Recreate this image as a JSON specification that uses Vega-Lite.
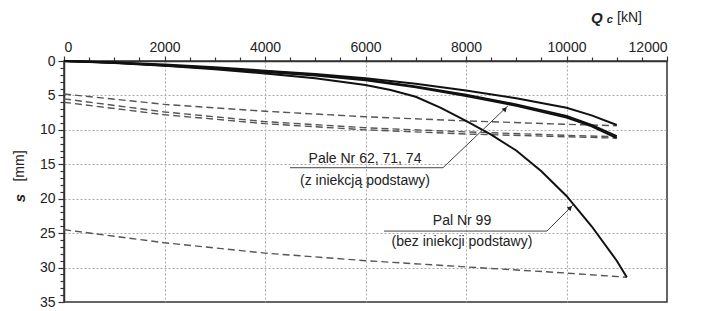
{
  "$schema": "https://vega.github.io/schema/vega-lite/v6.json",
  "width": 603,
  "height": 241,
  "autosize": {"type": "none"},
  "padding": {"left": 64, "top": 61, "right": 35, "bottom": 9},
  "background": "white",
  "config": {
    "view": {"stroke": "#333", "strokeWidth": 1.5},
    "font": "Liberation Sans",
    "text": {"font": "Liberation Sans"}
  },
  "datasets": {
    "solid": [
      {"series": "P99", "q": 0, "s": 0}, {"series": "P99", "q": 1000, "s": 0.3}, {"series": "P99", "q": 2000, "s": 0.7}, {"series": "P99", "q": 3000, "s": 1.2}, {"series": "P99", "q": 4000, "s": 1.8}, {"series": "P99", "q": 5000, "s": 2.5}, {"series": "P99", "q": 6000, "s": 3.5}, {"series": "P99", "q": 6500, "s": 4.2}, {"series": "P99", "q": 7000, "s": 5.2}, {"series": "P99", "q": 7500, "s": 6.8}, {"series": "P99", "q": 8000, "s": 8.7}, {"series": "P99", "q": 8500, "s": 10.7}, {"series": "P99", "q": 9000, "s": 13.0}, {"series": "P99", "q": 9500, "s": 16.0}, {"series": "P99", "q": 10000, "s": 19.6}, {"series": "P99", "q": 10500, "s": 24.0}, {"series": "P99", "q": 11000, "s": 29.0}, {"series": "P99", "q": 11200, "s": 31.4},
      {"series": "A", "q": 0, "s": 0}, {"series": "A", "q": 1000, "s": 0.2}, {"series": "A", "q": 2000, "s": 0.5}, {"series": "A", "q": 3000, "s": 0.9}, {"series": "A", "q": 4000, "s": 1.4}, {"series": "A", "q": 5000, "s": 1.9}, {"series": "A", "q": 6000, "s": 2.5}, {"series": "A", "q": 7000, "s": 3.3}, {"series": "A", "q": 8000, "s": 4.3}, {"series": "A", "q": 9000, "s": 5.4}, {"series": "A", "q": 10000, "s": 6.8}, {"series": "A", "q": 10500, "s": 7.9}, {"series": "A", "q": 11000, "s": 9.3},
      {"series": "B", "q": 0, "s": 0}, {"series": "B", "q": 1000, "s": 0.2}, {"series": "B", "q": 2000, "s": 0.6}, {"series": "B", "q": 3000, "s": 1.0}, {"series": "B", "q": 4000, "s": 1.5}, {"series": "B", "q": 5000, "s": 2.0}, {"series": "B", "q": 6000, "s": 2.7}, {"series": "B", "q": 7000, "s": 3.7}, {"series": "B", "q": 8000, "s": 4.9}, {"series": "B", "q": 9000, "s": 6.3}, {"series": "B", "q": 10000, "s": 8.0}, {"series": "B", "q": 10500, "s": 9.3}, {"series": "B", "q": 11000, "s": 10.9},
      {"series": "C", "q": 0, "s": 0}, {"series": "C", "q": 1000, "s": 0.25}, {"series": "C", "q": 2000, "s": 0.65}, {"series": "C", "q": 3000, "s": 1.1}, {"series": "C", "q": 4000, "s": 1.6}, {"series": "C", "q": 5000, "s": 2.1}, {"series": "C", "q": 6000, "s": 2.8}, {"series": "C", "q": 7000, "s": 3.8}, {"series": "C", "q": 8000, "s": 5.1}, {"series": "C", "q": 9000, "s": 6.5}, {"series": "C", "q": 10000, "s": 8.2}, {"series": "C", "q": 10500, "s": 9.5}, {"series": "C", "q": 11000, "s": 11.2}
    ],
    "dashed": [
      {"series": "D1", "q": 0, "s": 4.8}, {"series": "D1", "q": 2000, "s": 6.3}, {"series": "D1", "q": 4000, "s": 7.3}, {"series": "D1", "q": 6000, "s": 8.1}, {"series": "D1", "q": 8000, "s": 8.7}, {"series": "D1", "q": 10000, "s": 9.2}, {"series": "D1", "q": 11000, "s": 9.4},
      {"series": "D2", "q": 0, "s": 5.5}, {"series": "D2", "q": 2000, "s": 7.4}, {"series": "D2", "q": 4000, "s": 8.8}, {"series": "D2", "q": 6000, "s": 9.7}, {"series": "D2", "q": 8000, "s": 10.3}, {"series": "D2", "q": 10000, "s": 10.8}, {"series": "D2", "q": 11000, "s": 11.0},
      {"series": "D3", "q": 0, "s": 6.0}, {"series": "D3", "q": 2000, "s": 7.8}, {"series": "D3", "q": 4000, "s": 9.1}, {"series": "D3", "q": 6000, "s": 10.0}, {"series": "D3", "q": 8000, "s": 10.6}, {"series": "D3", "q": 10000, "s": 11.0}, {"series": "D3", "q": 11000, "s": 11.2},
      {"series": "D4", "q": 0, "s": 24.5}, {"series": "D4", "q": 2000, "s": 26.4}, {"series": "D4", "q": 4000, "s": 27.9}, {"series": "D4", "q": 6000, "s": 29.0}, {"series": "D4", "q": 8000, "s": 29.9}, {"series": "D4", "q": 10000, "s": 30.8}, {"series": "D4", "q": 11200, "s": 31.4}
    ],
    "one": [{}]
  },
  "layer": [
    {
      "data": {"name": "dashed"},
      "mark": {"type": "line", "stroke": "#555", "strokeWidth": 1.4, "strokeDash": [7, 4]},
      "encoding": {
        "x": {
          "field": "q", "type": "quantitative",
          "scale": {"domain": [0, 12000], "nice": false},
          "axis": {
            "orient": "top", "title": null,
            "values": [0, 500, 1000, 1500, 2000, 2500, 3000, 3500, 4000, 4500, 5000, 5500, 6000, 6500, 7000, 7500, 8000, 8500, 9000, 9500, 10000, 10500, 11000, 11500, 12000],
            "tickCount": 200,
            "format": "d",
            "labelExpr": "datum.value % 2000 === 0 ? datum.label : ''",
            "labelOverlap": false,
            "labelFontSize": 14, "labelColor": "#222", "labelPadding": 2,
            "tickSize": {"condition": {"test": "datum.value % 2000 === 0", "value": 5}, "value": 4},
            "tickColor": "#333", "tickWidth": 1.2,
            "domainColor": "#333", "domainWidth": 1.5,
            "grid": true, "gridColor": "#aaa", "gridDash": [2, 2], "gridWidth": 1,
            "gridOpacity": {"condition": {"test": "datum.value % 2000 === 0 && datum.value > 0 && datum.value < 12000", "value": 1}, "value": 0}
          }
        },
        "y": {
          "field": "s", "type": "quantitative",
          "scale": {"domain": [0, 35], "nice": false, "reverse": true},
          "axis": {
            "title": null,
            "values": [0, 1, 2, 3, 4, 5, 6, 7, 8, 9, 10, 11, 12, 13, 14, 15, 16, 17, 18, 19, 20, 21, 22, 23, 24, 25, 26, 27, 28, 29, 30, 31, 32, 33, 34, 35],
            "tickCount": 200,
            "format": "d",
            "labelExpr": "datum.value % 5 === 0 ? datum.label : ''",
            "labelOverlap": false,
            "labelFontSize": 14, "labelColor": "#222", "labelPadding": 3,
            "tickSize": {"condition": {"test": "datum.value % 5 === 0", "value": 6}, "value": 4},
            "tickColor": "#333", "tickWidth": 1.2,
            "domainColor": "#333", "domainWidth": 1.5,
            "grid": true, "gridColor": "#aaa", "gridDash": [2, 2], "gridWidth": 1,
            "gridOpacity": {"condition": {"test": "datum.value % 5 === 0 && datum.value > 0 && datum.value < 35", "value": 1}, "value": 0}
          }
        },
        "detail": {"field": "series"}
      }
    },
    {
      "data": {"name": "solid"},
      "mark": {"type": "line", "stroke": "#111", "strokeWidth": 2},
      "encoding": {
        "x": {"field": "q", "type": "quantitative"},
        "y": {"field": "s", "type": "quantitative"},
        "detail": {"field": "series"}
      }
    },
    {
      "data": {"name": "one"},
      "mark": {"type": "rule", "stroke": "#444", "strokeWidth": 1},
      "encoding": {"x": {"datum": 4498}, "x2": {"datum": 7542}, "y": {"datum": 15.5}, "y2": {"datum": 15.5}}
    },
    {
      "data": {"name": "one"},
      "mark": {"type": "rule", "stroke": "#444", "strokeWidth": 1},
      "encoding": {"x": {"datum": 7542}, "x2": {"datum": 8836}, "y": {"datum": 15.5}, "y2": {"datum": 6.5}}
    },
    {
      "data": {"name": "one"},
      "mark": {"type": "rule", "stroke": "#444", "strokeWidth": 1},
      "encoding": {"x": {"datum": 6368}, "x2": {"datum": 9612}, "y": {"datum": 24.7}, "y2": {"datum": 24.7}}
    },
    {
      "data": {"name": "one"},
      "mark": {"type": "rule", "stroke": "#444", "strokeWidth": 1},
      "encoding": {"x": {"datum": 9612}, "x2": {"datum": 10129}, "y": {"datum": 24.7}, "y2": {"datum": 20.9}}
    },
    {
      "data": {"name": "one"},
      "mark": {"type": "point", "shape": "triangle-up", "filled": true, "color": "#222", "size": 30, "opacity": 1, "angle": 44},
      "encoding": {"x": {"datum": 8780}, "y": {"datum": 6.95}}
    },
    {
      "data": {"name": "one"},
      "mark": {"type": "point", "shape": "triangle-up", "filled": true, "color": "#222", "size": 30, "opacity": 1, "angle": 45},
      "encoding": {"x": {"datum": 10075}, "y": {"datum": 21.3}}
    },
    {
      "data": {"name": "one"},
      "mark": {"type": "text", "fontSize": 14, "color": "#222", "align": "center", "baseline": "middle"},
      "encoding": {"x": {"datum": 5990}, "y": {"datum": 14.3}, "text": {"value": "Pale Nr 62, 71, 74"}}
    },
    {
      "data": {"name": "one"},
      "mark": {"type": "text", "fontSize": 14, "color": "#222", "align": "center", "baseline": "middle"},
      "encoding": {"x": {"datum": 5990}, "y": {"datum": 17.4}, "text": {"value": "(z iniekcją podstawy)"}}
    },
    {
      "data": {"name": "one"},
      "mark": {"type": "text", "fontSize": 14, "color": "#222", "align": "center", "baseline": "middle"},
      "encoding": {"x": {"datum": 7920}, "y": {"datum": 23.3}, "text": {"value": "Pal Nr 99"}}
    },
    {
      "data": {"name": "one"},
      "mark": {"type": "text", "fontSize": 14, "color": "#222", "align": "center", "baseline": "middle"},
      "encoding": {"x": {"datum": 7920}, "y": {"datum": 26.3}, "text": {"value": "(bez iniekcji podstawy)"}}
    },
    {
      "data": {"name": "one"},
      "mark": {"type": "text", "fontSize": 15, "fontWeight": "bold", "fontStyle": "italic", "color": "#222", "align": "left", "baseline": "middle"},
      "encoding": {"x": {"datum": 10488}, "y": {"datum": -6.3}, "text": {"value": "Q"}}
    },
    {
      "data": {"name": "one"},
      "mark": {"type": "text", "fontSize": 11, "fontWeight": "bold", "fontStyle": "italic", "color": "#222", "align": "left", "baseline": "middle"},
      "encoding": {"x": {"datum": 10800}, "y": {"datum": -5.9}, "text": {"value": "c"}}
    },
    {
      "data": {"name": "one"},
      "mark": {"type": "text", "fontSize": 14, "color": "#222", "align": "left", "baseline": "middle"},
      "encoding": {"x": {"datum": 11005}, "y": {"datum": -6.3}, "text": {"value": "[kN]"}}
    },
    {
      "data": {"name": "one"},
      "mark": {"type": "text", "fontSize": 15, "fontWeight": "bold", "fontStyle": "italic", "color": "#222", "align": "center", "baseline": "middle", "angle": 270},
      "encoding": {"x": {"datum": -876}, "y": {"datum": 19.9}, "text": {"value": "s"}}
    },
    {
      "data": {"name": "one"},
      "mark": {"type": "text", "fontSize": 14, "color": "#222", "align": "center", "baseline": "middle", "angle": 270},
      "encoding": {"x": {"datum": -876}, "y": {"datum": 15.25}, "text": {"value": "[mm]"}}
    }
  ]
}
